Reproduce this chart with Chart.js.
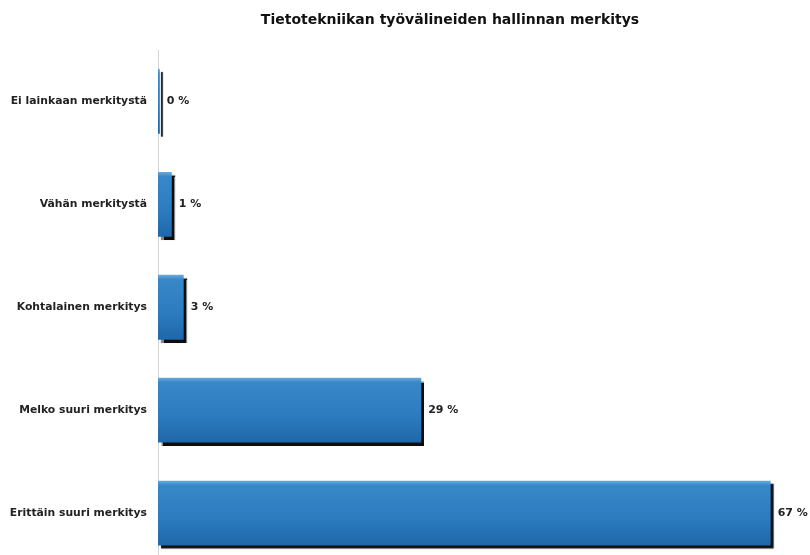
<!DOCTYPE html>
<html>
<head>
<meta charset="utf-8">
<script src="https://cdn.jsdelivr.net/npm/chart.js@4/dist/chart.umd.min.js"></script>
<style>
  html, body { margin: 0; padding: 0; background: #fff; overflow: hidden; }
  /* taller than the window: the last bar band runs past the bottom edge like in the original */
  #wrap { width: 810px; height: 574px; }
</style>
</head>
<body>
<div id="wrap"><canvas id="chart"></canvas></div>
<script>
const categories = ['Ei lainkaan merkitystä', 'Vähän merkitystä', 'Kohtalainen merkitys', 'Melko suuri merkitys', 'Erittäin suuri merkitys']
const shares = [0.2, 1.5, 2.8, 28.7, 66.8]
const shareLabels = ['0 %', '1 %', '3 %', '29 %', '67 %']
const chartTitle = 'Tietotekniikan työvälineiden hallinnan merkitys'

const BAR_PCT = 0.63
const FONT = '"DejaVu Sans", sans-serif'

// gradient for each bar, top lighter, bottom darker
function barFill (c) {
  const chart = c.chart
  const area = chart.chartArea
  if (!area) return '#2a78bd'
  const y = chart.scales.y.getPixelForValue(c.dataIndex)
  const h = area.height / categories.length * BAR_PCT
  const g = chart.ctx.createLinearGradient(0, y - h / 2, 0, y + h / 2)
  g.addColorStop(0, '#6aaade')
  g.addColorStop(0.07, '#3888c9')
  g.addColorStop(0.6, '#2c7bbf')
  g.addColorStop(1, '#1f67a8')
  return g
}

// hard black drop shadow under the bars
const barShadow = {
  id: 'barShadow',
  beforeDatasetsDraw (chart) {
    const ctx = chart.ctx
    ctx.save()
    ctx.shadowColor = 'rgba(0,0,0,0.95)'
    ctx.shadowOffsetX = 3
    ctx.shadowOffsetY = 3
    ctx.shadowBlur = 1
  },
  afterDatasetsDraw (chart) {
    chart.ctx.restore()
  }
}

// value labels at the end of the bars + title
const valueLabels = {
  id: 'valueLabels',
  afterDatasetsDraw (chart) {
    const ctx = chart.ctx
    const meta = chart.getDatasetMeta(0)
    ctx.save()
    ctx.font = 'bold 11px ' + FONT
    ctx.fillStyle = '#222'
    ctx.textAlign = 'left'
    ctx.textBaseline = 'middle'
    meta.data.forEach((bar, i) => {
      ctx.fillText(shareLabels[i], bar.x + 7, bar.y)
    })
    ctx.font = 'bold 14px ' + FONT
    ctx.fillStyle = '#111'
    ctx.textAlign = 'center'
    ctx.fillText(chartTitle, 450, 20)
    ctx.restore()
  }
}

const ctx = document.getElementById('chart').getContext('2d')
new Chart(ctx, {
  type: 'bar',
  data: {
    labels: categories,
    datasets: [
      {
        data: shares,
        backgroundColor: barFill,
        borderWidth: 0,
        barPercentage: BAR_PCT,
        categoryPercentage: 1
      }
    ]
  },
  options: {
    indexAxis: 'y',
    responsive: true,
    maintainAspectRatio: false,
    animation: false,
    layout: {
      padding: { left: 0, right: 10, top: 50, bottom: 0 }
    },
    plugins: {
      legend: { display: false },
      tooltip: { enabled: false },
      title: { display: false }
    },
    scales: {
      x: {
        display: false,
        min: 0,
        max: 70
      },
      y: {
        afterFit (scale) { scale.width = 158 },
        grid: { display: false },
        border: { display: true, color: '#d4d4d4', width: 1 },
        ticks: {
          color: '#222',
          padding: 3,
          font: { family: FONT, size: 10.8, weight: 'bold' }
        }
      }
    }
  },
  plugins: [barShadow, valueLabels]
})
</script>
</body>
</html>
